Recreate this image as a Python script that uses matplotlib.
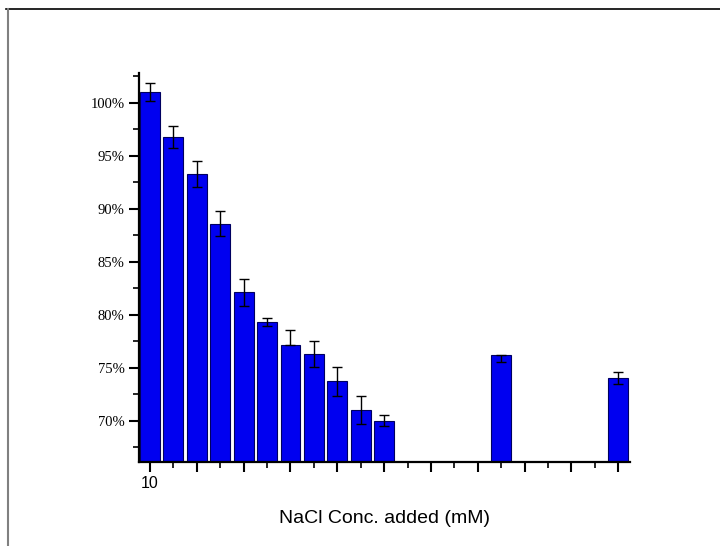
import numpy as np
import matplotlib.pyplot as plt
from matplotlib.lines import Line2D
from matplotlib.ticker import FuncFormatter, MultipleLocator, FixedLocator

# relative signal (%) for each NaCl addition step
positions = [0, 1, 2, 3, 4, 5, 6, 7, 8, 9, 10, 15, 20]
values = [101.0, 96.8, 93.3, 88.6, 82.1, 79.3, 77.1, 76.3, 73.7, 71.0, 70.0, 76.2, 74.0]
err_low = [0.85, 1.05, 1.25, 1.2, 1.3, 0.4, 0.0, 1.2, 1.35, 1.3, 0.55, 0.65, 0.55]
err_high = [0.85, 1.05, 1.25, 1.2, 1.3, 0.4, 1.5, 1.2, 1.35, 1.3, 0.55, 0.0, 0.55]
xtick_labels = {0: "10"}

fig = plt.figure(figsize=(7.2, 5.46), dpi=100)
ax = fig.add_axes([0.193, 0.154, 0.682, 0.712])

ax.bar(positions, values, width=0.85, color="#0000f0", edgecolor="#000060",
       linewidth=0.8, zorder=2)
ax.errorbar(positions, values, yerr=[err_low, err_high], fmt="none",
            ecolor="black", elinewidth=1.0, capsize=3.5, capthick=1.0, zorder=3)

ax.set_xlim(-0.47, 20.5)
ax.set_ylim(66.1, 102.8)

ax.yaxis.set_major_locator(MultipleLocator(5))
ax.yaxis.set_minor_locator(MultipleLocator(2.5))
ax.yaxis.set_major_formatter(FuncFormatter(lambda v, p: f"{v:.0f}%"))
ax.xaxis.set_major_locator(FixedLocator(range(0, 21, 2)))
ax.xaxis.set_minor_locator(FixedLocator(range(1, 21, 2)))
ax.xaxis.set_major_formatter(FuncFormatter(lambda v, p: xtick_labels.get(int(round(v)), "")))

for lbl in ax.get_yticklabels():
    lbl.set_fontfamily("Liberation Serif")
    lbl.set_fontsize(10.5)
for lbl in ax.get_xticklabels():
    lbl.set_fontfamily("Liberation Sans")
    lbl.set_fontsize(11.5)

ax.tick_params(axis="both", which="major", direction="out", length=7, width=1.5)
ax.tick_params(axis="both", which="minor", direction="out", length=4.5, width=1.2)
ax.tick_params(axis="x", pad=3)

for side in ("top", "right"):
    ax.spines[side].set_visible(False)
for side in ("left", "bottom"):
    ax.spines[side].set_linewidth(1.6)

ax.set_xlabel("NaCl Conc. added (mM)", fontfamily="Liberation Sans",
              fontsize=14, labelpad=14)

# page frame: top and left edges
fig.add_artist(Line2D([0.009, 1.0], [0.984, 0.984], transform=fig.transFigure,
                      color="black", linewidth=1.2))
fig.add_artist(Line2D([0.011, 0.011], [0.0, 0.984], transform=fig.transFigure,
                      color="#808080", linewidth=1.5))

fig.savefig("out.png", dpi=100)
